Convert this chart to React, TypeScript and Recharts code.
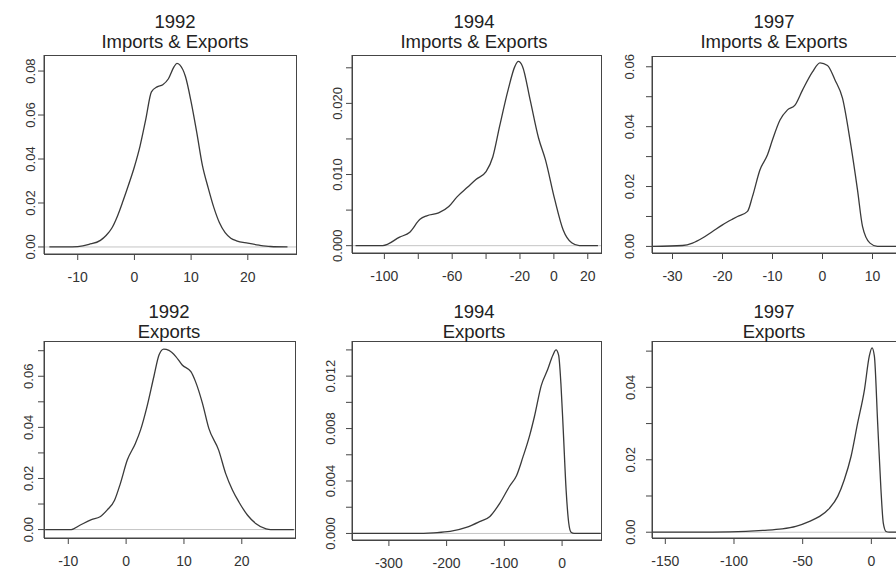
import React from "react";
import { LineChart, Line, XAxis, YAxis, ReferenceLine } from "recharts";

const FONT = "'Liberation Sans', Arial, sans-serif";

// 1992 Imports & Exports
const p1X = [-15, -12, -10, -8, -6, -5, -4, -3, -2, -1, 0, 1, 2, 3, 4, 5, 6, 7, 7.5, 8, 9, 10, 11, 12, 13, 14, 15, 16, 17, 18, 20, 22, 24, 27];
const p1Y = [0, 0, 0.0002, 0.0012, 0.003, 0.0052, 0.0085, 0.014, 0.021, 0.0285, 0.0365, 0.046, 0.058, 0.0705, 0.0728, 0.0738, 0.0765, 0.082, 0.0835, 0.0828, 0.0775, 0.066, 0.052, 0.037, 0.027, 0.018, 0.011, 0.0065, 0.004, 0.0028, 0.0017, 0.0008, 0.0002, 0];
const p1XTicks = [-10, 0, 10, 20];
const p1XLabels = ["-10", "0", "10", "20"];
const p1YTicks = [0, 0.02, 0.04, 0.06, 0.08];
const p1YLabels = ["0.00", "0.02", "0.04", "0.06", "0.08"];

// 1994 Imports & Exports
const p2X = [-117, -101, -91, -85, -79, -75, -68, -62, -57, -51, -46, -40, -36, -32, -27, -23, -21, -18.5, -14, -9, -5, 0.5, 5.5, 10.5, 15, 26];
const p2Y = [0, 0, 0.0012, 0.0019, 0.0037, 0.0042, 0.0046, 0.0055, 0.0069, 0.0082, 0.0093, 0.0104, 0.0125, 0.0168, 0.0219, 0.0252, 0.0259, 0.0252, 0.0205, 0.0151, 0.0121, 0.0065, 0.0022, 0.0004, 0, 0];
const p2XTicks = [-100, -80, -60, -40, -20, 0, 20];
const p2XLabels = ["-100", "", "-60", "", "-20", "0", "20"];
const p2YTicks = [0, 0.005, 0.01, 0.015, 0.02, 0.025];
const p2YLabels = ["0.000", "", "0.010", "", "0.020", ""];

// 1997 Imports & Exports
const p3X = [-34, -28, -26, -24, -22, -20, -18, -17, -15, -14, -12.5, -11, -10, -8.5, -7, -5.5, -4, -2, -0.5, 1, 2.5, 4, 5.5, 7, 8, 9.5, 11, 16];
const p3Y = [0, 0.0003, 0.0011, 0.0028, 0.005, 0.0072, 0.0091, 0.01, 0.0117, 0.0167, 0.0256, 0.0306, 0.0356, 0.0422, 0.0456, 0.0472, 0.0522, 0.0583, 0.0613, 0.0604, 0.0556, 0.0495, 0.0356, 0.0189, 0.0067, 0.0011, 0, 0];
const p3XTicks = [-30, -20, -10, 0, 10];
const p3XLabels = ["-30", "-20", "-10", "0", "10"];
const p3YTicks = [0, 0.01, 0.02, 0.03, 0.04, 0.05, 0.06];
const p3YLabels = ["0.00", "", "0.02", "", "0.04", "", "0.06"];

// 1992 Exports
const p4X = [-14, -9.5, -8, -6, -4.5, -3.3, -2, -1, 0.2, 1.6, 2.5, 3.6, 4.8, 5.7, 6.5, 7.4, 8.6, 9.7, 11.2, 12, 13.2, 14.3, 16, 17.2, 18.4, 19.5, 21, 22.4, 24.2, 25, 29];
const p4Y = [0, 0, 0.0017, 0.0039, 0.005, 0.0076, 0.0115, 0.018, 0.0272, 0.0337, 0.039, 0.048, 0.0599, 0.0684, 0.0706, 0.0701, 0.0677, 0.0644, 0.0618, 0.0579, 0.0494, 0.0396, 0.0311, 0.022, 0.0154, 0.0108, 0.0056, 0.0024, 0.0003, 0, 0];
const p4XTicks = [-10, 0, 10, 20];
const p4XLabels = ["-10", "0", "10", "20"];
const p4YTicks = [0, 0.01, 0.02, 0.03, 0.04, 0.05, 0.06, 0.07];
const p4YLabels = ["0.00", "", "0.02", "", "0.04", "", "0.06", ""];

// 1994 Exports
const p5X = [-364, -252, -223, -194, -166, -143, -125, -108, -91, -79, -68, -56, -48, -36, -25, -16, -10.5, -6, -2, 2, 7, 11.5, 15.5, 21, 67];
const p5Y = [0, 0, 0.00005, 0.00015, 0.00046, 0.0009, 0.0013, 0.0023, 0.0036, 0.0044, 0.0058, 0.0075, 0.0089, 0.0113, 0.0125, 0.0136, 0.014, 0.0136, 0.0114, 0.0079, 0.0033, 0.0008, 0.0001, 0, 0];
const p5XTicks = [-300, -200, -100, 0];
const p5XLabels = ["-300", "-200", "-100", "0"];
const p5YTicks = [0, 0.002, 0.004, 0.006, 0.008, 0.01, 0.012, 0.014];
const p5YLabels = ["0.000", "", "0.004", "", "0.008", "", "0.012", ""];

// 1997 Exports
const p6X = [-160, -128, -103, -79, -65, -55, -45, -38, -30.5, -24.5, -19.7, -14.8, -10, -5, -1.5, 0.5, 2.2, 4.6, 7, 8.7, 10.7, 13, 24];
const p6Y = [0, 0, 0.0001, 0.0005, 0.0009, 0.0016, 0.003, 0.0043, 0.0066, 0.0099, 0.0145, 0.0209, 0.0301, 0.0394, 0.0486, 0.0509, 0.0486, 0.0301, 0.0117, 0.0025, 0.0002, 0, 0];
const p6XTicks = [-150, -100, -50, 0];
const p6XLabels = ["-150", "-100", "-50", "0"];
const p6YTicks = [0, 0.01, 0.02, 0.03, 0.04, 0.05];
const p6YLabels = ["0.00", "", "0.02", "", "0.04", ""];

const panels = [
  { year: "1992", sub: "Imports & Exports", xs: p1X, ys: p1Y, xDomain: [-15.95, 28.5], yDomain: [-0.0032, 0.0873], xTicks: p1XTicks, xLabels: p1XLabels, yTicks: p1YTicks, yLabels: p1YLabels },
  { year: "1994", sub: "Imports & Exports", xs: p2X, ys: p2Y, xDomain: [-119.1, 27.8], yDomain: [-0.00103, 0.0268], xTicks: p2XTicks, xLabels: p2XLabels, yTicks: p2YTicks, yLabels: p2YLabels },
  { year: "1997", sub: "Imports & Exports", xs: p3X, ys: p3Y, xDomain: [-34.1, 16.5], yDomain: [-0.0022, 0.0636], xTicks: p3XTicks, xLabels: p3XLabels, yTicks: p3YTicks, yLabels: p3YLabels },
  { year: "1992", sub: "Exports", xs: p4X, ys: p4Y, xDomain: [-14.2, 29.2], yDomain: [-0.0033, 0.0738], xTicks: p4XTicks, xLabels: p4XLabels, yTicks: p4YTicks, yLabels: p4YLabels },
  { year: "1994", sub: "Exports", xs: p5X, ys: p5Y, xDomain: [-363.9, 67.4], yDomain: [-0.0005, 0.01468], xTicks: p5XTicks, xLabels: p5XLabels, yTicks: p5YTicks, yLabels: p5YLabels },
  { year: "1997", sub: "Exports", xs: p6X, ys: p6Y, xDomain: [-159.7, 24.5], yDomain: [-0.0016, 0.0528], xTicks: p6XTicks, xLabels: p6XLabels, yTicks: p6YTicks, yLabels: p6YLabels },
];

// plot boxes in page pixels, title centre and baselines, y label gap
const layout = [
  { l: 44, t: 55, r: 296, b: 254, cx: 175, base: [28, 48], gap: 14 },
  { l: 352, t: 55, r: 601, b: 253, cx: 474, base: [28, 48], gap: 15 },
  { l: 652, t: 56, r: 905, b: 253, cx: 774, base: [28, 48], gap: 23 },
  { l: 44, t: 341, r: 295, b: 538, cx: 169, base: [318, 338], gap: 16 },
  { l: 352, t: 341, r: 601, b: 540, cx: 474, base: [318, 338], gap: 22 },
  { l: 652, t: 341, r: 905, b: 538, cx: 774, base: [318, 338], gap: 22 },
];

const M = { top: 4, right: 6, bottom: 4, left: 4 };
const YW = 56;
const XH = 36;
const INK = "#3a3a3a";
const FRAME = "#454545";

function YTick(props: any) {
  const { x, y, payload, ticks, labels } = props;
  const label = labels[ticks.indexOf(payload.value)];
  if (!label) return null;
  return (
    <text
      x={x}
      y={y}
      dy="0.36em"
      transform={`rotate(-90 ${x} ${y})`}
      textAnchor="middle"
      fill="#333"
      fontSize={13}
      fontFamily={FONT}
    >
      {label}
    </text>
  );
}

function Panel({ p, box }: any) {
  const data = p.xs.map((x: number, i: number) => ({ x, y: p.ys[i] }));
  const w = box.r - box.l + M.left + YW + M.right;
  const h = box.b - box.t + M.top + XH + M.bottom;
  return (
    <>
      <div style={{ position: "absolute", left: box.l - M.left - YW, top: box.t - M.top }}>
        <LineChart width={w} height={h} data={data} margin={M}>
          <ReferenceLine y={0} stroke="#c4c4c4" strokeWidth={1} />
          <XAxis
            type="number"
            dataKey="x"
            domain={p.xDomain}
            ticks={p.xTicks}
            interval={0}
            allowDataOverflow
            height={XH}
            tickSize={6}
            tickMargin={12}
            stroke={FRAME}
            tick={{ fill: "#333", fontSize: 14, fontFamily: FONT }}
            tickFormatter={(v: number) => p.xLabels[p.xTicks.indexOf(v)] ?? ""}
          />
          <YAxis
            type="number"
            domain={p.yDomain}
            ticks={p.yTicks}
            interval={0}
            allowDataOverflow
            width={YW}
            tickSize={6}
            tickMargin={box.gap - 6}
            stroke={FRAME}
            tick={<YTick ticks={p.yTicks} labels={p.yLabels} />}
          />
          <Line type="monotone" dataKey="y" stroke={INK} strokeWidth={1.3} dot={false} isAnimationActive={false} />
        </LineChart>
      </div>
      <div
        style={{
          position: "absolute",
          left: box.l,
          top: box.t,
          width: box.r - box.l - 1,
          height: box.b - box.t - 1,
          border: `1px solid ${FRAME}`,
          pointerEvents: "none",
        }}
      />
    </>
  );
}

export default function App() {
  return (
    <div style={{ position: "fixed", left: 0, top: 0, width: 896, height: 572, overflow: "hidden", background: "#fff" }}>
      {panels.map((p, i) => (
        <Panel key={i} p={p} box={layout[i]} />
      ))}
      <svg width={896} height={572} style={{ position: "absolute", left: 0, top: 0, pointerEvents: "none" }}>
        {panels.map((p, i) => (
          <g key={i} fill="#222" fontFamily={FONT} fontSize={18.5} textAnchor="middle">
            <text x={layout[i].cx} y={layout[i].base[0]}>{p.year}</text>
            <text x={layout[i].cx} y={layout[i].base[1]}>{p.sub}</text>
          </g>
        ))}
      </svg>
    </div>
  );
}
